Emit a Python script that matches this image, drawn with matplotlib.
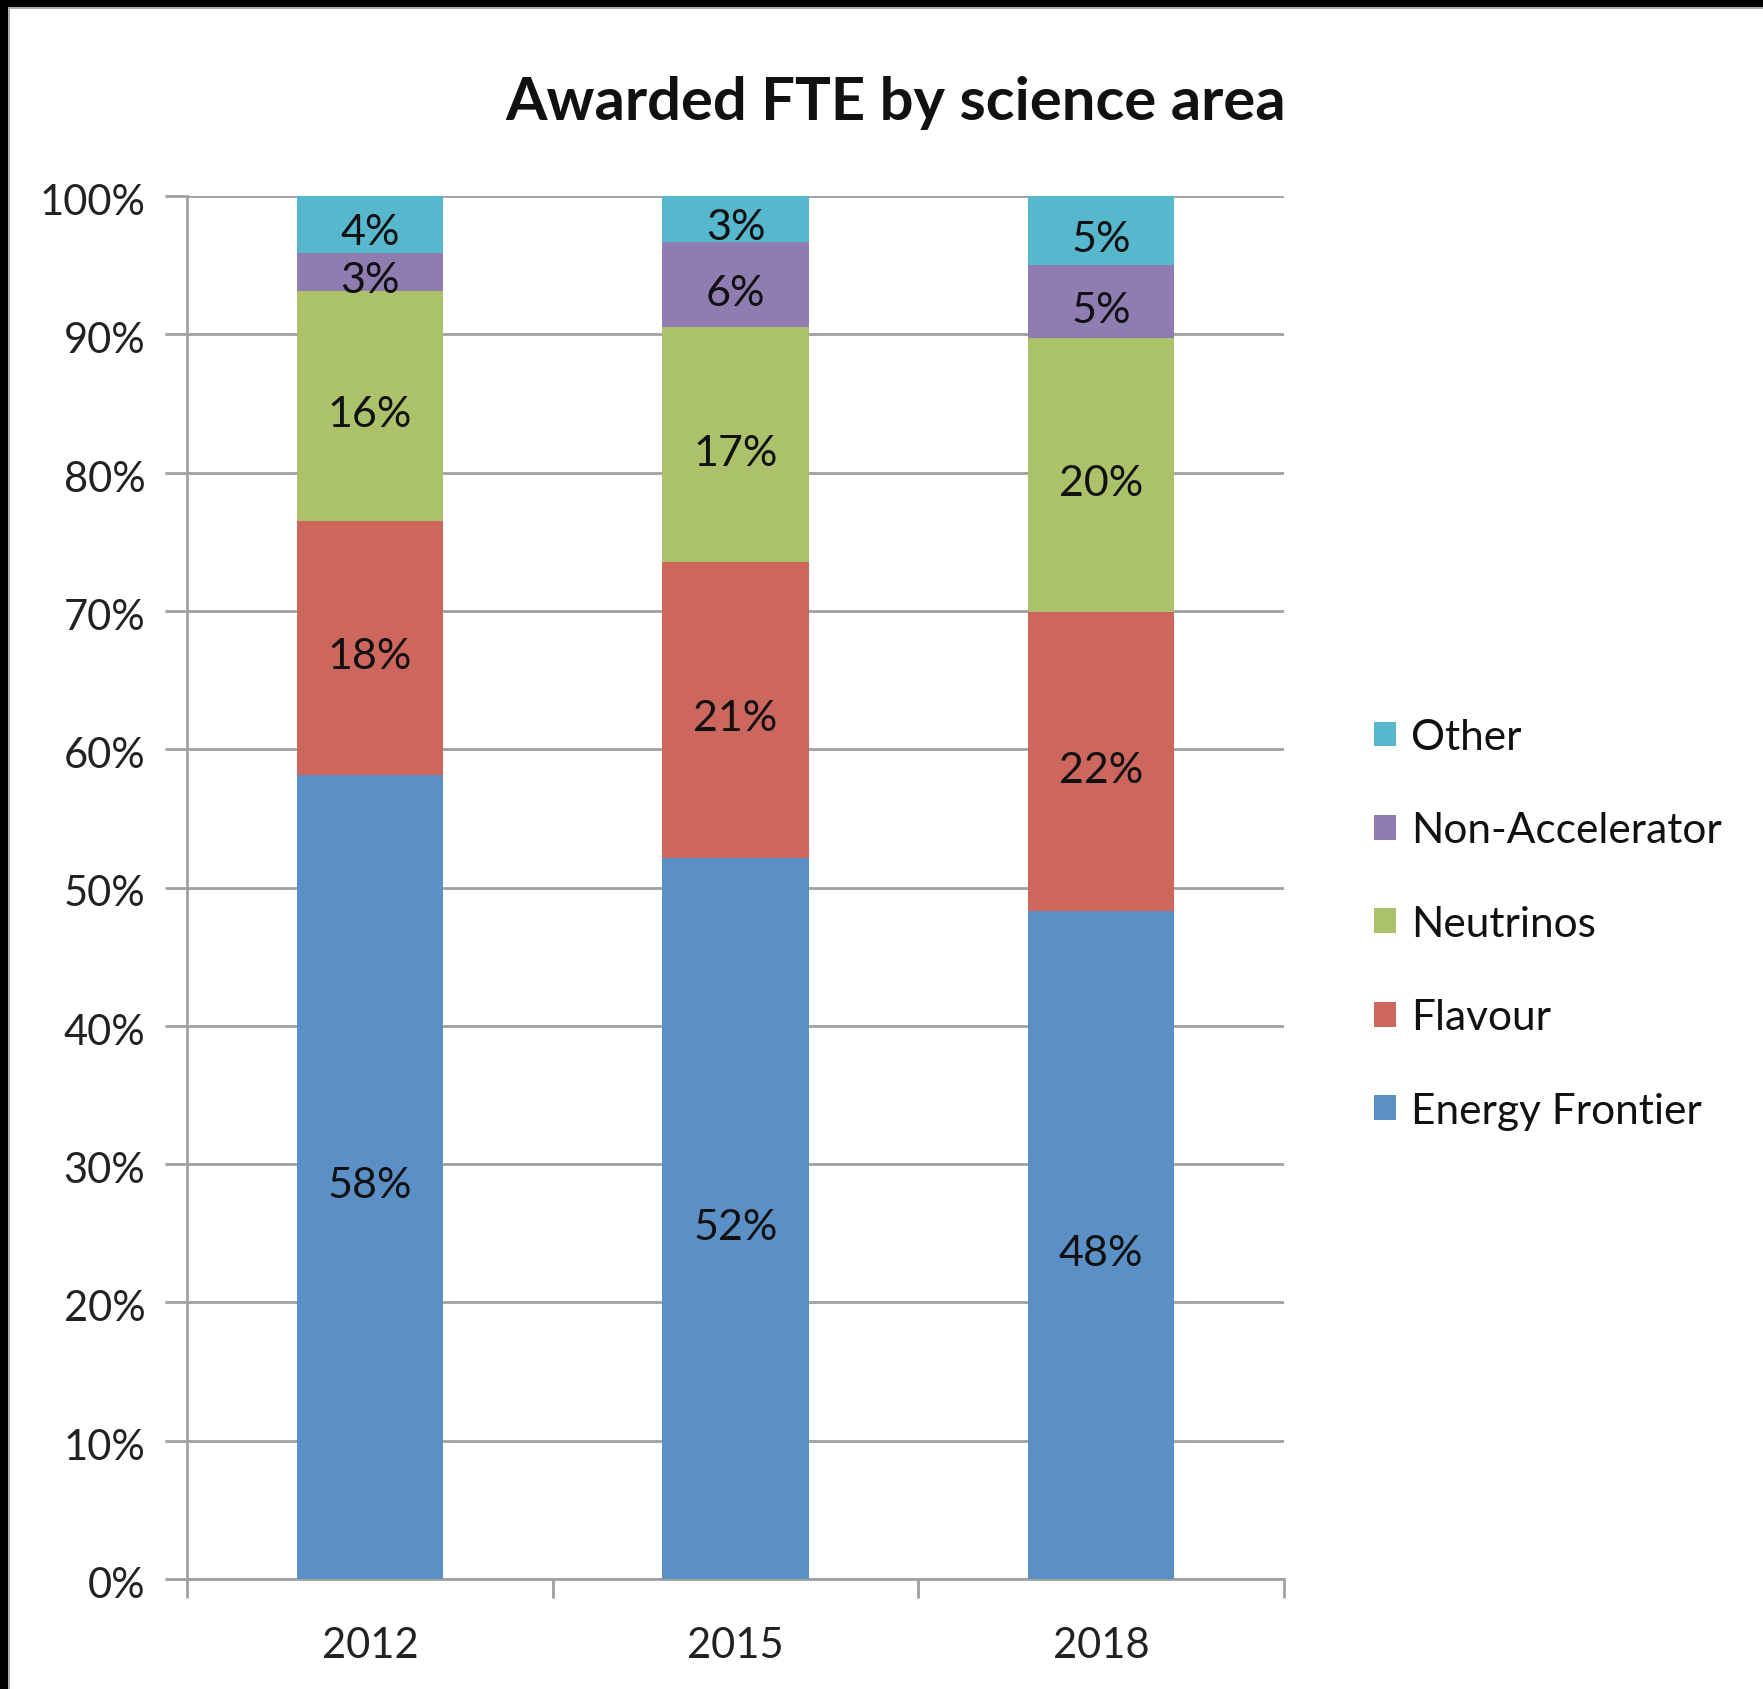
import matplotlib
matplotlib.use("Agg")
import matplotlib.pyplot as plt
from matplotlib.patches import Rectangle, Patch
from matplotlib.transforms import ScaledTranslation
import numpy as np

years = ["2012", "2015", "2018"]
series = ["Energy Frontier", "Flavour", "Neutrinos", "Non-Accelerator", "Other"]
energy = [58.1, 52.1, 48.3]
flavour = [18.4, 21.4, 21.6]
neutrinos = [16.6, 17.0, 19.8]
nonacc = [2.8, 6.2, 5.3]
other = [4.1, 3.3, 5.0]
labels_energy = ["58%", "52%", "48%"]
labels_flavour = ["18%", "21%", "22%"]
labels_neutrinos = ["16%", "17%", "20%"]
labels_nonacc = ["3%", "6%", "5%"]
labels_other = ["4%", "3%", "5%"]
yticks = [0, 10, 20, 30, 40, 50, 60, 70, 80, 90, 100]
ytick_labels = ["0%", "10%", "20%", "30%", "40%", "50%", "60%", "70%", "80%", "90%", "100%"]

colors = ["#5B90C6", "#CD665C", "#ABC26A", "#8F7CB0", "#56B7CD"]

plt.rcParams['font.family'] = ['Lato', 'DejaVu Sans']

W, H = 1763, 1690
fig = plt.figure(figsize=(W / 100, H / 100), dpi=100)
fig.patch.set_facecolor("white")

ax = fig.add_axes([187 / W, 110 / H, (1284 - 187) / W, (1580 - 197) / H])

down = ScaledTranslation(0, -8 / 100, fig.dpi_scale_trans)

data = [energy, flavour, neutrinos, nonacc, other]
labs = [labels_energy, labels_flavour, labels_neutrinos, labels_nonacc, labels_other]
x = np.arange(len(years))
bottom = np.zeros(len(years))
for vals, lab, col, name in zip(data, labs, colors, series):
    vals = np.array(vals)
    ax.bar(x, vals, width=0.40, bottom=bottom, color=col, zorder=3, label=name)
    for xi, b, v, t in zip(x, bottom, vals, lab):
        ax.text(xi, b + v / 2, t, ha="center", va="center", fontsize=31, color="#111111",
                zorder=4, transform=ax.transData + down)
    bottom = bottom + vals

ax.set_xlim(-0.5, 2.5)
ax.set_ylim(0, 100)
ax.set_yticks(yticks)
ax.set_yticklabels(ytick_labels, fontsize=30, color="#222222", va="center")
ax.set_xticks(x)
ax.set_xticklabels(years, fontsize=30, color="#222222")
ax.set_xticks([-0.5, 0.5, 1.5, 2.5], minor=True)
ax.tick_params(axis="x", which="major", length=0, pad=34)
ax.tick_params(axis="x", which="minor", length=14, width=2, color="#A0A0A0", direction="out")
ax.tick_params(axis="y", length=16, width=2, color="#A0A0A0", direction="out", pad=14)

ax.grid(axis="y", color="#A0A0A0", linewidth=2, zorder=0)
for s in ["top", "right"]:
    ax.spines[s].set_visible(False)
for s in ["left", "bottom"]:
    ax.spines[s].set_color("#A0A0A0")
    ax.spines[s].set_linewidth(2)

yshift = ScaledTranslation(0, -6 / 100, fig.dpi_scale_trans)
for lbl in ax.get_yticklabels():
    lbl.set_transform(lbl.get_transform() + yshift)

fig.text(797 * 1763 / 1568 / W, 1 - 103 / H, "Awarded FTE by science area", ha="center", va="center",
         fontsize=43, fontweight="bold", color="#111111")

leg_handles = [Patch(facecolor=c, edgecolor="none") for c in colors][::-1]
leg = fig.legend(leg_handles, series[::-1], loc="upper left",
                 bbox_to_anchor=(1374 / W, 1 - 719 / H), frameon=False,
                 fontsize=30.5, handlelength=0.53, handleheight=0.53, handletextpad=0.34,
                 labelspacing=1.31, borderaxespad=0, borderpad=0)
for t in leg.get_texts():
    t.set_color("#111111")

# black frame top and left
fig.patches.append(Rectangle((0, 1 - 8 / H), 1, 8 / H, transform=fig.transFigure,
                             facecolor="black", edgecolor="none", zorder=10))
fig.patches.append(Rectangle((0, 0), 8 / W, 1, transform=fig.transFigure,
                             facecolor="black", edgecolor="none", zorder=10))
fig.patches.append(Rectangle((8 / W, 0), 2 / W, 1 - 8 / H, transform=fig.transFigure,
                             facecolor="#B0B0B0", edgecolor="none", zorder=10))
fig.patches.append(Rectangle((8 / W, 1 - 10 / H), 1, 2 / H, transform=fig.transFigure,
                             facecolor="#B0B0B0", edgecolor="none", zorder=10))

fig.savefig("out.png", dpi=100, facecolor="white")
